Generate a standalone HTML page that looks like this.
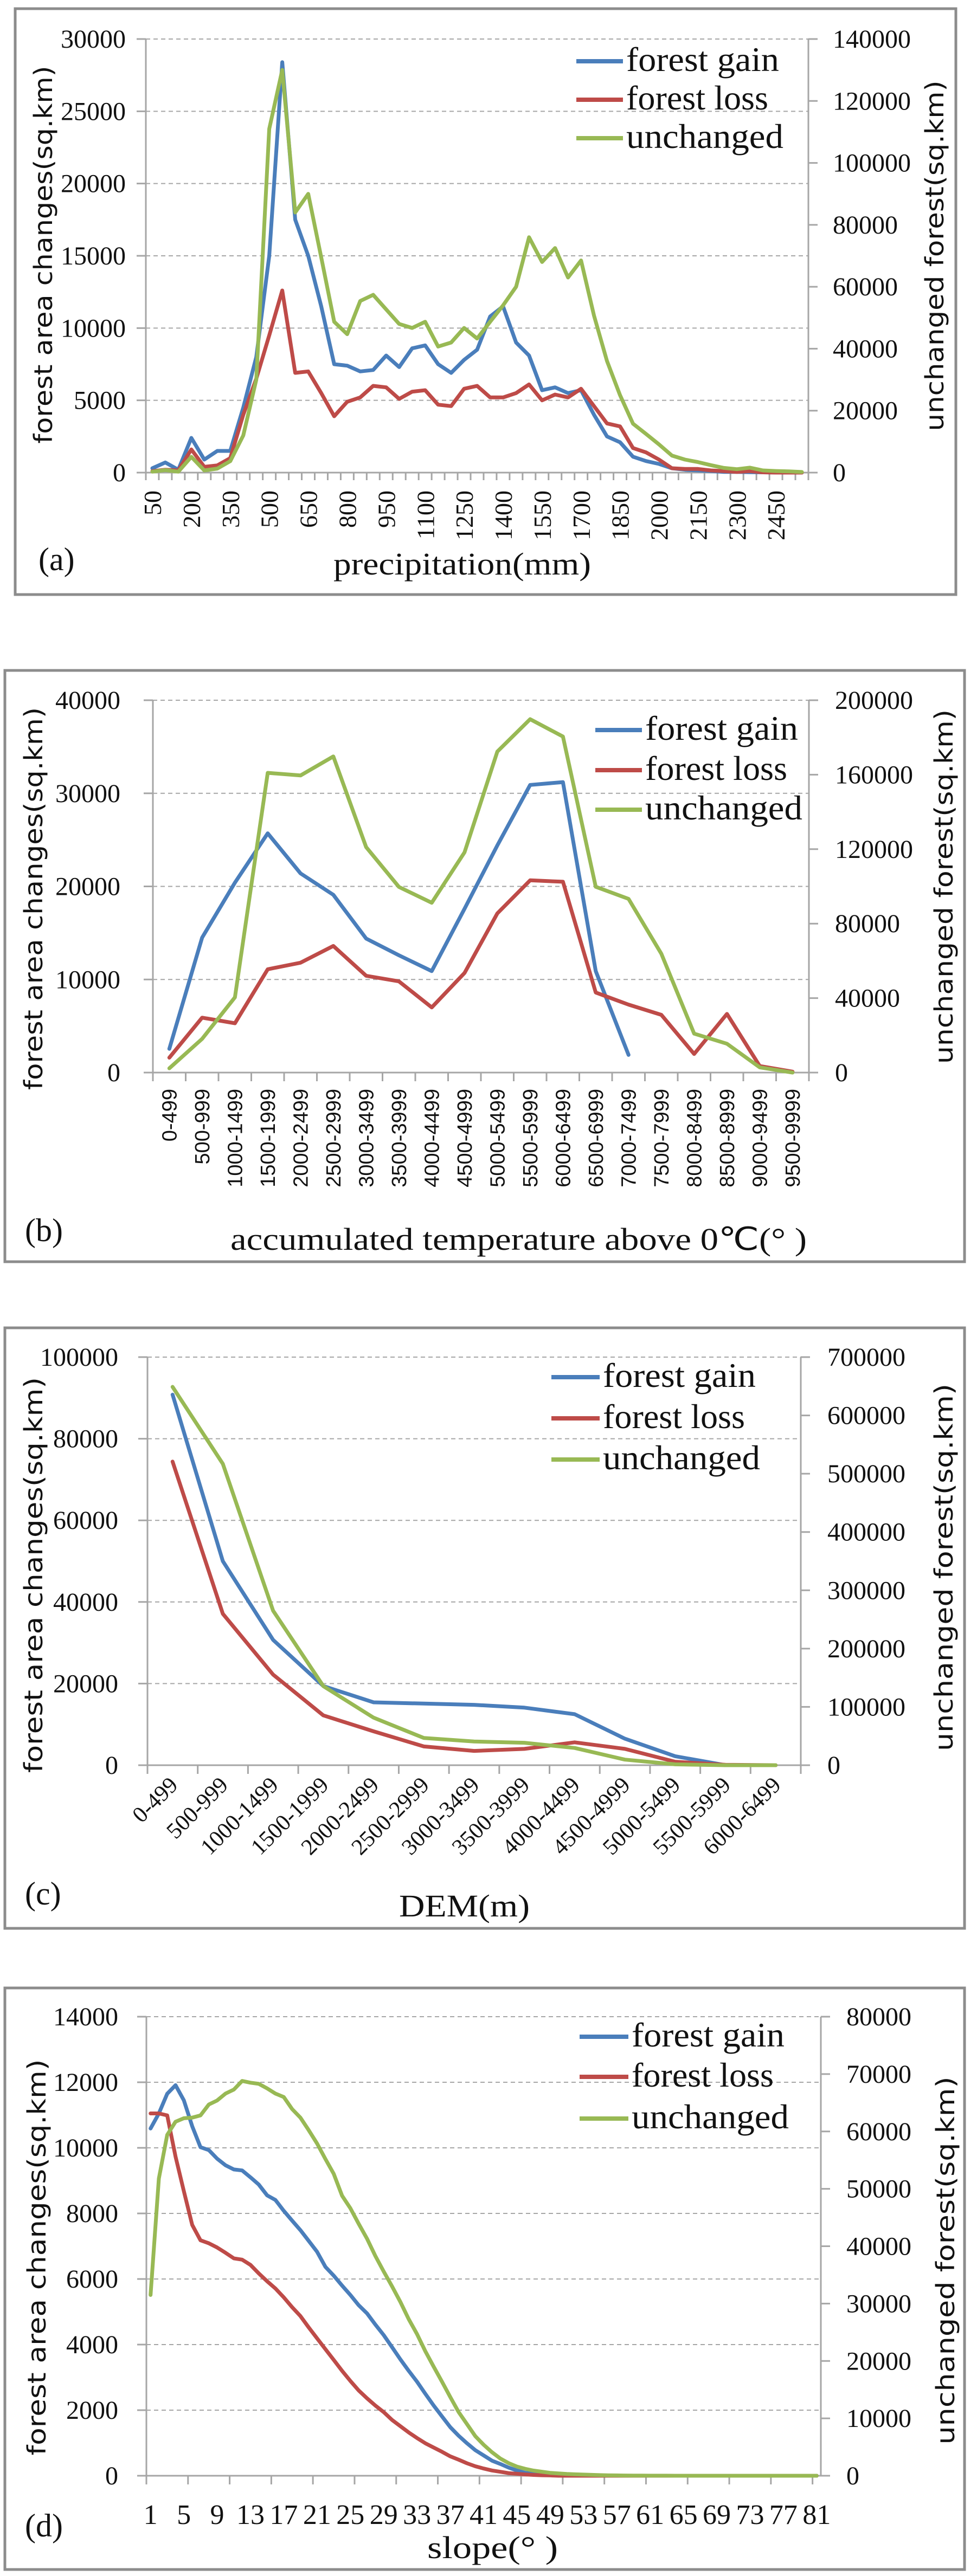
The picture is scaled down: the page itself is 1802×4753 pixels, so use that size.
<!DOCTYPE html>
<html><head><meta charset="utf-8"><title>Forest change charts</title>
<style>
html,body{margin:0;padding:0;background:#fff;}
svg{display:block;}
.tick{font-family:"Liberation Serif",serif;fill:#111;}
.lab{font-family:"Liberation Serif",serif;fill:#111;}
</style></head>
<body>
<svg id="root" xmlns="http://www.w3.org/2000/svg" width="1802" height="4753" viewBox="0 0 1802 4753"></svg>
<script>
// ---------- Panel (a) precipitation ----------
const aCategories = [50,100,150,200,250,300,350,400,450,500,550,600,650,700,750,800,850,900,950,1000,1050,1100,1150,1200,1250,1300,1350,1400,1450,1500,1550,1600,1650,1700,1750,1800,1850,1900,1950,2000,2050,2100,2150,2200,2250,2300,2350,2400,2450,2500,2550];
const aGain = [300,700,200,2400,900,1500,1500,4500,8000,15000,28400,17500,15000,11500,7500,7400,7000,7100,8100,7300,8600,8800,7500,6900,7800,8500,10800,11500,9000,8100,5700,5900,5500,5700,4000,2500,2100,1100,800,600,300,200,150,100,50,50,30,20,10,0,0];
const aLoss = [100,200,150,1600,400,500,1000,4000,6500,9500,12600,6900,7000,5500,3900,4900,5200,6000,5900,5100,5600,5700,4700,4600,5800,6000,5200,5200,5500,6100,5000,5400,5200,5800,4600,3400,3200,1700,1400,900,300,250,250,150,100,50,100,20,0,0,0];
const aUnchanged = [300,800,300,5100,700,1300,3700,12000,30000,111000,130000,84000,90000,69500,48700,44700,55400,57400,52700,48000,46700,48700,40700,42000,46700,43300,48700,54000,60000,76000,68000,72500,63000,68500,50700,36000,25000,15800,12500,9100,5500,4200,3400,2400,1500,1100,1600,700,500,400,200];
const aLeftTicks = [0,5000,10000,15000,20000,25000,30000];
const aRightTicks = [0,20000,40000,60000,80000,100000,120000,140000];

// ---------- Panel (b) accumulated temperature ----------
const bCategories = ["0-499","500-999","1000-1499","1500-1999","2000-2499","2500-2999","3000-3499","3500-3999","4000-4499","4500-4999","5000-5499","5500-5999","6000-6499","6500-6999","7000-7499","7500-7999","8000-8499","8500-8999","9000-9499","9500-9999"];
const bGain = [2550,14500,20400,25700,21400,19100,14400,12600,10900,17600,24400,30900,31200,10900,1900,null,null,null,null,null];
const bLoss = [1600,5900,5300,11100,11800,13600,10400,9800,7000,10700,17100,20650,20500,8600,7300,6200,2000,6300,700,100];
const bUnchanged = [2300,18100,40400,161000,159600,169800,121100,99700,91200,118300,172400,189800,180500,99800,93300,63800,20900,15500,2800,0];
const bLeftTicks = [0,10000,20000,30000,40000];
const bRightTicks = [0,40000,80000,120000,160000,200000];

// ---------- Panel (c) DEM ----------
const cCategories = ["0-499","500-999","1000-1499","1500-1999","2000-2499","2500-2999","3000-3499","3500-3999","4000-4499","4500-4999","5000-5499","5500-5999","6000-6499"];
const cGain = [90800,50000,30700,19400,15400,15100,14800,14100,12500,6500,2200,0,null];
const cLoss = [74400,37100,22200,12200,8300,4600,3500,4000,5600,4000,850,100,0];
const cUnchanged = [649000,517000,265000,135600,81500,46700,40700,38500,29600,9600,1500,0,0];
const cLeftTicks = [0,20000,40000,60000,80000,100000];
const cRightTicks = [0,100000,200000,300000,400000,500000,600000,700000];

// ---------- Panel (d) slope ----------
const dCategories = [1,2,3,4,5,6,7,8,9,10,11,12,13,14,15,16,17,18,19,20,21,22,23,24,25,26,27,28,29,30,31,32,33,34,35,36,37,38,39,40,41,42,43,44,45,46,47,48,49,50,51,52,53,54,55,56,57,58,59,60,61,62,63,64,65,66,67,68,69,70,71,72,73,74,75,76,77,78,79,80,81];
const dGain = [10590,11050,11650,11910,11450,10660,10020,9930,9670,9470,9340,9310,9100,8880,8550,8410,8080,7780,7490,7160,6830,6370,6100,5800,5510,5200,4950,4610,4290,3920,3550,3200,2870,2500,2140,1810,1480,1220,990,780,620,460,360,250,160,90,65,40,20,10,5,0,0,0,0,0,0,0,0,0,0,0,0,0,0,0,0,0,0,0,0,0,0,0,0,0,0,0,0,0,0];
const dLoss = [11050,11050,10990,9730,8680,7650,7180,7090,6960,6800,6630,6590,6430,6170,5930,5710,5440,5140,4870,4520,4190,3860,3530,3200,2890,2600,2360,2140,1940,1700,1510,1320,1150,990,860,730,590,490,380,290,220,160,120,80,60,40,25,15,10,0,0,0,0,0,0,0,0,0,0,0,0,0,0,0,0,0,0,0,0,0,0,0,0,0,0,0,0,0,0,0,0];
const dUnchanged = [31500,51800,59400,61700,62300,62400,62800,64700,65400,66600,67300,68800,68500,68300,67500,66600,66000,63900,62400,60200,57900,55200,52600,48800,46600,43900,41300,38300,35600,33000,30300,27300,24700,21700,19000,16400,13700,11100,9000,6900,5400,4100,3000,2200,1600,1200,900,700,500,400,300,250,200,150,100,80,60,40,30,20,10,10,10,0,0,0,0,0,0,0,0,0,0,0,0,0,0,0,0,0,0];
const dLeftTicks = [0,2000,4000,6000,8000,10000,12000,14000];
const dRightTicks = [0,10000,20000,30000,40000,50000,60000,70000,80000];

const legendNames = ["forest gain","forest loss","unchanged"];
const COLORS = ["#4a7ebb","#be4b48","#98b954"];
const NS = "http://www.w3.org/2000/svg";
const root = document.getElementById('root');

function mk(tag, attrs, parent, text){
  const e = document.createElementNS(NS, tag);
  for (const k in attrs) e.setAttribute(k, attrs[k]);
  if (text !== undefined) e.textContent = text;
  (parent||root).appendChild(e);
  return e;
}

function drawPanel(cfg, cats, gain, loss, unch, lt, rt){
  const g = mk('g', {});
  
  
  const fr = mk('rect', {x:cfg.fx, y:cfg.fy, width:cfg.fw, height:cfg.fh, fill:'#fff', stroke:'#8c8c8c', 'stroke-width':5}, g);
  
  
  const L=cfg.l, R=cfg.r, T=cfg.t, B=cfg.b;
  const n = cats.length, band = (R-L)/n;
  const xOf = i => L + (i+0.5)*band;
  const lMax = lt[lt.length-1], rMax = rt[rt.length-1];
  const yL = v => B - v/lMax*(B-T);
  const yR = v => B - v/rMax*(B-T);
  // gridlines
  lt.forEach((v,i)=>{
    if (i===0) return;
    const gl = mk('line', {x1:L, x2:R, y1:yL(v), y2:yL(v), stroke:'#a6a6a6', 'stroke-width':2, 'stroke-dasharray':'8 6'}, g);
    
    
  });
  // axes
  const ax = mk('path', {d:`M${L},${T}V${B}H${R}M${R},${T}V${B}`, stroke:'#a6a6a6', 'stroke-width':3, fill:'none'}, g);
  
  
  // left ticks
  lt.forEach(v=>{
    mk('line', {x1:L-17, x2:L, y1:yL(v), y2:yL(v), stroke:'#a6a6a6', 'stroke-width':3}, g);
    const t = mk('text', {x:cfg.ltx, y:yL(v)+16, 'text-anchor':'end', 'font-size':48, class:'tick'}, g, String(v));
    
    
  });
  rt.forEach(v=>{
    mk('line', {x1:R, x2:R+17, y1:yR(v), y2:yR(v), stroke:'#a6a6a6', 'stroke-width':3}, g);
    const t = mk('text', {x:cfg.rtx, y:yR(v)+16, 'text-anchor':'start', 'font-size':48, class:'tick'}, g, String(v));
    
    
  });
  // x ticks
  for (let k=0;k<=n;k+=cfg.tickEvery){
    const x = L + k*band;
    mk('line', {x1:x, x2:x, y1:B, y2:B+cfg.tickLen, stroke:'#a6a6a6', 'stroke-width':3}, g);
  }
  // x labels
  cats.forEach((c,i)=>{
    if (i % cfg.labelEvery !== 0) return;
    const cx = xOf(i);
    let t;
    if (cfg.labelMode==='v'){
      t = mk('text', {x:cx+cfg.lfs*0.35, y:cfg.labelY, 'text-anchor':'end', 'font-size':cfg.lfs, 'font-family':cfg.lfont, fill:'#111', transform:`rotate(-90 ${cx+cfg.lfs*0.35} ${cfg.labelY})`}, g, String(c));
    } else if (cfg.labelMode==='d'){
      const ax2 = cx+12, ay = cfg.labelY;
      t = mk('text', {x:ax2, y:ay, 'text-anchor':'end', 'font-size':cfg.lfs, 'font-family':cfg.lfont, fill:'#111', transform:`rotate(-45 ${ax2} ${ay})`}, g, String(c));
    } else {
      t = mk('text', {x:cx, y:cfg.labelY, 'text-anchor':'middle', 'font-size':cfg.lfs, 'font-family':cfg.lfont, fill:'#111'}, g, String(c));
    }
    
    
  });
  // series
  const series = [[gain,yL,'forest-gain-line'],[loss,yL,'forest-loss-line'],[unch,yR,'unchanged-line']];
  series.forEach((s,si)=>{
    let d=''; let pen=false;
    s[0].forEach((v,i)=>{
      if (v===null){pen=false;return;}
      d += (pen?'L':'M') + xOf(i).toFixed(1) + ',' + s[1](v).toFixed(1);
      pen=true;
    });
    const p = mk('path', {d:d, fill:'none', stroke:COLORS[si], 'stroke-width':7, 'stroke-linejoin':'round', 'stroke-linecap':'round'}, g);
    
    
  });
  // legend
  legendNames.forEach((nm,i)=>{
    const y = cfg.legY[i];
    const ln = mk('line', {x1:cfg.legX1, x2:cfg.legX2, y1:y, y2:y, stroke:COLORS[i], 'stroke-width':8}, g);
    
    
    const t = mk('text', {x:cfg.legX2+6, y:y+18, 'font-size':64, class:'lab', textLength:cfg.legW[i], lengthAdjust:'spacingAndGlyphs'}, g, nm);
    
    
  });
  // axis titles
  const lcx = cfg.ltitle[0], lcy = cfg.ltitle[1];
  const t1 = mk('text', {x:lcx, y:lcy, 'text-anchor':'middle', 'font-size':46, 'font-family':'"DejaVu Sans","Liberation Sans",sans-serif', fill:'#111', textLength:cfg.ltitle[2], lengthAdjust:'spacingAndGlyphs', transform:`rotate(-90 ${lcx} ${lcy})`}, g, 'forest area changes(sq.km)');
  
  
  const rcx = cfg.rtitle[0], rcy = cfg.rtitle[1];
  const t2 = mk('text', {x:rcx, y:rcy, 'text-anchor':'middle', 'font-size':46, 'font-family':'"DejaVu Sans","Liberation Sans",sans-serif', fill:'#111', textLength:cfg.rtitle[2], lengthAdjust:'spacingAndGlyphs', transform:`rotate(-90 ${rcx} ${rcy})`}, g, 'unchanged forest(sq.km)');
  
  
  const t3 = mk('text', {x:cfg.xtitle[0], y:cfg.xtitle[1], 'font-size':58, class:'lab', textLength:cfg.xtitle[2], lengthAdjust:'spacingAndGlyphs'}, g, cfg.xtitleText);
  
  
  const t4 = mk('text', {x:cfg.tag[0], y:cfg.tag[1], 'font-size':60, class:'lab'}, g, cfg.tagText);
  
  
}

const serif = '"Liberation Serif",serif';
const sans = '"Liberation Sans",sans-serif';

drawPanel({name:'chart-a-precipitation', fx:28,fy:16,fw:1735,fh:1081, l:269,r:1491,t:72,b:872,
  ltx:232, rtx:1536, tickEvery:1, tickLen:14, labelEvery:3, labelMode:'v', labelY:905, lfs:46, lfont:serif,
  legX1:1063, legX2:1149, legY:[113,184,255], legW:[282,262,290],
  ltitle:[96,470,697], rtitle:[1740,472,647], xtitle:[615,1060,475], xtitleText:'precipitation(mm)',
  tag:[71,1052], tagText:'(a)'}, aCategories, aGain, aLoss, aUnchanged, aLeftTicks, aRightTicks);

drawPanel({name:'chart-b-temperature', fx:9,fy:1237,fw:1770,fh:1091, l:282,r:1492,t:1292,b:1979,
  ltx:222, rtx:1540, tickEvery:1, tickLen:16, labelEvery:1, labelMode:'v', labelY:2009, lfs:38, lfont:sans,
  legX1:1098, legX2:1184, legY:[1347,1421,1494], legW:[282,262,290],
  ltitle:[78,1658,706], rtitle:[1757,1636,654], xtitle:[425,2306,1063], xtitleText:'accumulated temperature above 0\u2103(\u00b0  )',
  tag:[46,2290], tagText:'(b)'}, bCategories, bGain, bLoss, bUnchanged, bLeftTicks, bRightTicks);

drawPanel({name:'chart-c-dem', fx:9,fy:2450,fw:1770,fh:1108, l:272,r:1477,t:2504,b:3257,
  ltx:218, rtx:1526, tickEvery:1, tickLen:16, labelEvery:1, labelMode:'d', labelY:3296, lfs:42, lfont:serif,
  legX1:1017, legX2:1106, legY:[2541,2617,2693], legW:[282,262,290],
  ltitle:[78,2906,730], rtitle:[1757,2892,678], xtitle:[736,3536,241], xtitleText:'DEM(m)',
  tag:[46,3514], tagText:'(c)'}, cCategories, cGain, cLoss, cUnchanged, cLeftTicks, cRightTicks);

drawPanel({name:'chart-d-slope', fx:9,fy:3668,fw:1770,fh:1073, l:270,r:1514,t:3721,b:4568,
  ltx:218, rtx:1561, tickEvery:5, tickLen:16, labelEvery:4, labelMode:'h', labelY:4657, lfs:52, lfont:serif,
  legX1:1069, legX2:1159, legY:[3758,3832,3909], legW:[282,262,290],
  ltitle:[84,4165,731], rtitle:[1760,4171,679], xtitle:[788,4720,241], xtitleText:'slope(\u00b0  )',
  tag:[46,4680], tagText:'(d)'}, dCategories, dGain, dLoss, dUnchanged, dLeftTicks, dRightTicks);
</script>
</body></html>
